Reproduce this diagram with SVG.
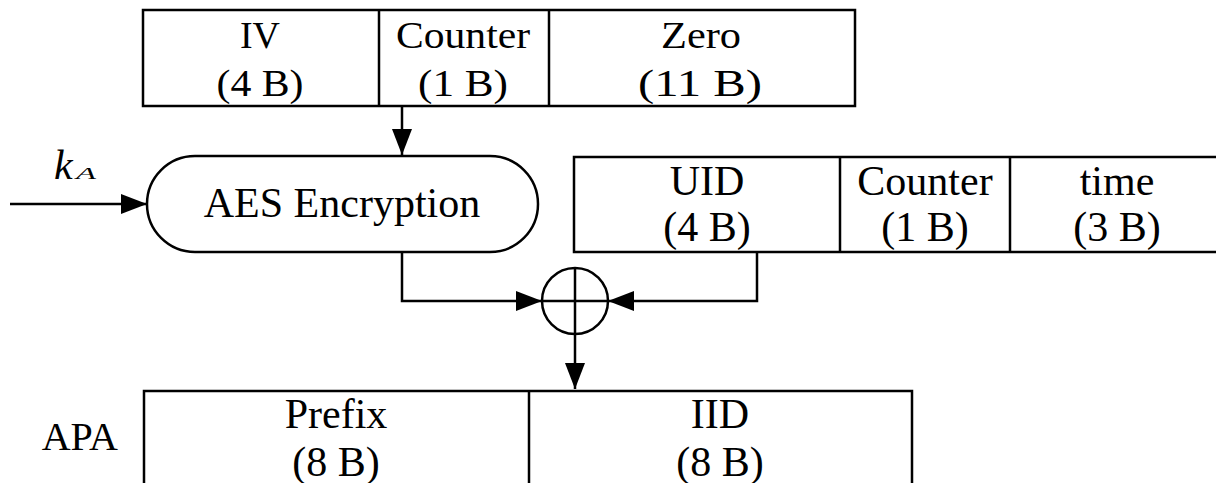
<svg xmlns="http://www.w3.org/2000/svg" width="1216" height="483" viewBox="0 0 1216 483">
<style>
.box{fill:none;stroke:#000;stroke-width:2.5}
.ln{fill:none;stroke:#000;stroke-width:2.5}
.t{font-family:"Liberation Serif","Times New Roman",serif;fill:#000;text-anchor:middle}
.s36{font-size:37px}
.s42{font-size:42px}
</style>
<defs>
<marker id="ah" markerUnits="userSpaceOnUse" markerWidth="26" markerHeight="20" refX="26" refY="10" orient="auto">
<path d="M0,0 L26,10 L0,20 Z" fill="#000"/>
</marker>
</defs>
<rect width="1216" height="483" fill="#fff"/>
<g id="top-block">
<rect class="box" x="143" y="10" width="712" height="96"/>
<line class="ln" x1="379" y1="10" x2="379" y2="106"/>
<line class="ln" x1="549" y1="10" x2="549" y2="106"/>
<text class="t s36" x="260" y="48" textLength="40" lengthAdjust="spacingAndGlyphs">IV</text>
<text class="t s36" x="260" y="96" textLength="87" lengthAdjust="spacingAndGlyphs">(4 B)</text>
<text class="t s36" x="463" y="48" textLength="134" lengthAdjust="spacingAndGlyphs">Counter</text>
<text class="t s36" x="463" y="96" textLength="90" lengthAdjust="spacingAndGlyphs">(1 B)</text>
<text class="t s36" x="701" y="48" textLength="80" lengthAdjust="spacingAndGlyphs">Zero</text>
<text class="t s36" x="700" y="96" textLength="124" lengthAdjust="spacingAndGlyphs">(11 B)</text>
</g>
<g id="key">
<text x="54" y="179" font-family="Liberation Serif, serif" font-style="italic" font-size="42">k</text>
<text x="76" y="179" font-family="Liberation Serif, serif" font-style="italic" font-size="17" textLength="20" lengthAdjust="spacingAndGlyphs">A</text>
</g>
<g id="aes">
<rect class="box" x="147" y="156" width="391" height="96" rx="48" ry="48"/>
<text class="t s42" x="342" y="217">AES Encryption</text>
</g>
<g id="plain-block">
<path class="box" d="M1220,157 H574 V252 H1220"/>
<line class="ln" x1="840" y1="157" x2="840" y2="252"/>
<line class="ln" x1="1010" y1="157" x2="1010" y2="252"/>
<text class="t s42" x="707" y="195">UID</text>
<text class="t s42" x="707" y="241">(4 B)</text>
<text class="t s42" x="925" y="195">Counter</text>
<text class="t s42" x="925" y="241">(1 B)</text>
<text class="t s42" x="1117" y="195">time</text>
<text class="t s42" x="1117" y="241">(3 B)</text>
</g>
<g id="xor">
<circle class="ln" cx="575" cy="301" r="33"/>
<line class="ln" x1="542" y1="301" x2="608" y2="301"/>
<line class="ln" x1="575" y1="268" x2="575" y2="334"/>
</g>
<g id="apa">
<text class="t s42" x="118" y="450" style="text-anchor:end;font-size:40px">APA</text>
<path class="box" d="M144,490 V391 H912 V490"/>
<line class="ln" x1="529" y1="391" x2="529" y2="490"/>
<text class="t s42" x="336" y="428">Prefix</text>
<text class="t s42" x="336" y="476">(8 B)</text>
<text class="t s42" x="720" y="428">IID</text>
<text class="t s42" x="720" y="476">(8 B)</text>
</g>
<g id="connectors">
<path class="ln" d="M402,106 V155" marker-end="url(#ah)"/>
<path class="ln" d="M10,204 H147" marker-end="url(#ah)"/>
<path class="ln" d="M402,252 V301 H542" marker-end="url(#ah)"/>
<path class="ln" d="M757,252 V301 H608" marker-end="url(#ah)"/>
<path class="ln" d="M575,334 V389" marker-end="url(#ah)"/>
</g>
</svg>
